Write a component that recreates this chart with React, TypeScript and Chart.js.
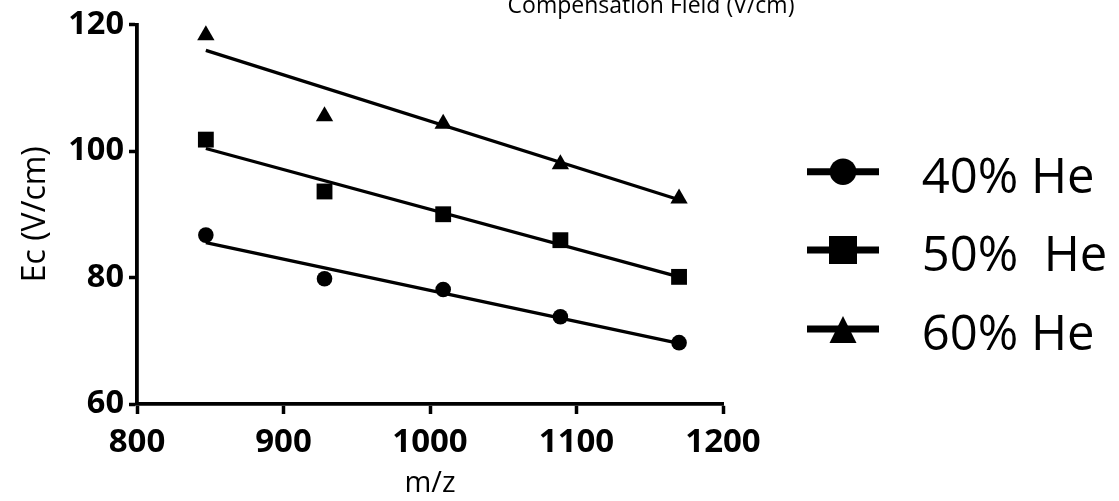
import React, { useEffect, useRef } from "react";
import { Chart, registerables } from "chart.js";

Chart.register(...registerables);

// ---- data ----
const mzValues = [847, 928, 1009, 1089, 1170];
const he40 = [86.7, 79.8, 78.1, 73.8, 69.7];
const he50 = [101.8, 93.6, 90.0, 85.9, 80.1];
const he60 = [118.3, 105.5, 104.3, 97.9, 92.5];

const fitX = [847, 1170];
const fit40 = [85.5, 69.6];
const fit50 = [100.4, 80.1];
const fit60 = [115.9, 92.3];

const seriesNames = ["40% He", "50%  He", "60% He"];
const seriesMarkers = ["circle", "rect", "triangle"];
const xTicks = [800, 900, 1000, 1100, 1200];
const yTicks = [60, 80, 100, 120];

const chartTitle = "Compensation Field (V/cm)";
const xTitle = "m/z";
const yTitle = "Ec (V/cm)";

const FONT = '"Open Sans", "DejaVu Sans", sans-serif';

const toPoints = (xs: number[], ys: number[]) => xs.map((x, i) => ({ x, y: ys[i] }));

const overlayPlugin = {
  id: "overlay",
  afterDraw(chart: any) {
    const ctx = chart.ctx as CanvasRenderingContext2D;
    ctx.save();
    ctx.fillStyle = "#000";
    ctx.strokeStyle = "#000";
    // partially visible title at the very top
    ctx.font = `23px ${FONT}`;
    ctx.textAlign = "center";
    ctx.textBaseline = "alphabetic";
    ctx.fillText(chartTitle, 651, 13);

    // legend
    const lineY = [171.7, 250, 329];
    const baseY = [192.7, 270.7, 350];
    const x0 = 807, x1 = 879, cx = 843;
    seriesNames.forEach((name, i) => {
      const y = lineY[i];
      ctx.lineWidth = 7;
      ctx.beginPath();
      ctx.moveTo(x0, y);
      ctx.lineTo(x1, y);
      ctx.stroke();
      ctx.beginPath();
      const m = seriesMarkers[i];
      if (m === "circle") {
        ctx.arc(cx, y, 13.3, 0, Math.PI * 2);
      } else if (m === "rect") {
        ctx.rect(cx - 14, y - 14, 28, 28);
      } else {
        ctx.moveTo(cx, y - 13);
        ctx.lineTo(cx + 13.5, y + 14);
        ctx.lineTo(cx - 13.5, y + 14);
        ctx.closePath();
      }
      ctx.fill();
      ctx.font = `49px ${FONT}`;
      ctx.textAlign = "left";
      ctx.textBaseline = "alphabetic";
      ctx.fillText(name, 921.7, baseY[i]);
    });
    ctx.restore();
  },
};

export default function App() {
  const canvasRef = useRef<HTMLCanvasElement | null>(null);

  useEffect(() => {
    if (!canvasRef.current) return;
    const markerDs = (label: string, ys: number[], style: string, radius: number) => ({
      label,
      data: toPoints(mzValues, ys),
      showLine: false,
      pointStyle: style,
      pointRadius: radius,
      pointBackgroundColor: "#000",
      pointBorderColor: "#000",
      pointBorderWidth: 0,
      clip: false,
    });
    const fitDs = (label: string, ys: number[]) => ({
      label,
      data: toPoints(fitX, ys),
      showLine: true,
      borderColor: "#000",
      borderWidth: 3.3,
      pointRadius: 0,
      tension: 0,
      clip: false,
    });
    const chart = new Chart(canvasRef.current, {
      type: "scatter",
      data: {
        datasets: [
          fitDs("fit40", fit40),
          fitDs("fit50", fit50),
          fitDs("fit60", fit60),
          markerDs(seriesNames[0], he40, "circle", 7.8),
          markerDs(seriesNames[1], he50, "rect", 11.2),
          markerDs(seriesNames[2], he60, "triangle", 10),
        ] as any,
      },
      options: {
        responsive: false,
        animation: false,
        events: [],
        layout: { padding: { left: 0, top: 24, right: 396, bottom: 0 } },
        plugins: {
          legend: { display: false },
          title: { display: false },
          tooltip: { enabled: false },
        },
        scales: {
          x: {
            type: "linear",
            min: 800,
            max: 1200,
            afterFit: (s: any) => {
              s.height = 97;
            },
            afterBuildTicks: (s: any) => {
              s.ticks = xTicks.map((v) => ({ value: v }));
            },
            ticks: {
              color: "#000",
              padding: 9,
              font: { family: FONT, size: 33, weight: "bold" },
              callback: (v: any) => String(v),
            },
            grid: {
              drawOnChartArea: false,
              drawTicks: true,
              tickLength: 10,
              tickWidth: 3.5,
              tickColor: "#000",
            },
            border: { display: true, color: "#000", width: 3.8 },
            title: {
              display: true,
              text: xTitle,
              color: "#000",
              font: { family: FONT, size: 29 },
              padding: { top: 0, bottom: 0 },
            },
          },
          y: {
            type: "linear",
            min: 60,
            max: 120,
            afterFit: (s: any) => {
              s.width = 137;
            },
            afterBuildTicks: (s: any) => {
              s.ticks = yTicks.map((v) => ({ value: v }));
            },
            ticks: {
              color: "#000",
              padding: 5,
              font: { family: FONT, size: 32.5, weight: "bold" },
              callback: (v: any) => String(v),
            },
            grid: {
              drawOnChartArea: false,
              drawTicks: true,
              tickLength: 8,
              tickWidth: 3.5,
              tickColor: "#000",
            },
            border: { display: true, color: "#000", width: 3.8 },
            title: {
              display: true,
              text: yTitle,
              color: "#000",
              font: { family: FONT, size: 32 },
              padding: { top: 17, bottom: 0 },
            },
          },
        },
      } as any,
      plugins: [overlayPlugin],
    });
    return () => chart.destroy();
  }, []);

  return (
    <div style={{ position: "fixed", left: 0, top: 0, width: 1119, height: 501, background: "#fff" }}>
      <canvas ref={canvasRef} width={1119} height={501} style={{ display: "block" }} />
    </div>
  );
}
